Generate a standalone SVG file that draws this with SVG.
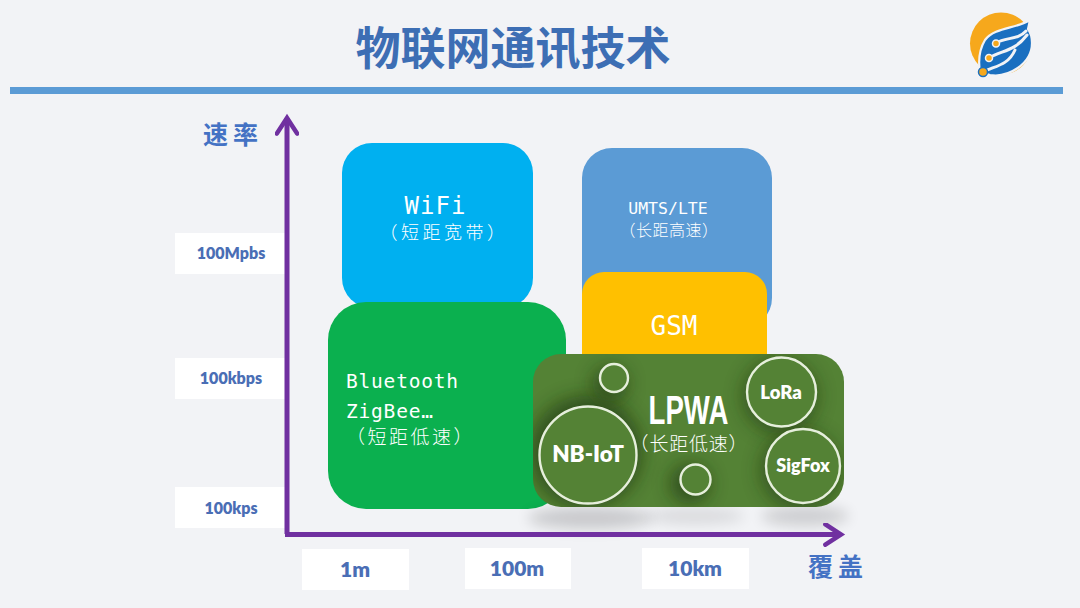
<svg xmlns="http://www.w3.org/2000/svg" width="1080" height="608" viewBox="0 0 1080 608">
<defs>
<filter id="sh" x="-30%" y="-60%" width="160%" height="220%"><feGaussianBlur stdDeviation="7"/></filter>
<filter id="ish" x="-50%" y="-50%" width="200%" height="200%"><feGaussianBlur stdDeviation="9"/></filter>
<clipPath id="lp"><rect x="533" y="354" width="311" height="153" rx="28"/></clipPath>
<marker id="ah" viewBox="0 0 20 20" refX="16" refY="10" markerUnits="userSpaceOnUse" markerWidth="24" markerHeight="24" orient="auto"><path d="M3 1.5 L16 10 L3 18.5" fill="none" stroke="#7030a0" stroke-width="3.8" stroke-linecap="round"/></marker>
</defs>
<style>
text{font-family:"Liberation Sans","Noto Sans CJK SC",sans-serif}
.lab{font-family:Lato,"Noto Sans",sans-serif;font-weight:800;fill:#4a6eb5;text-anchor:middle}
.axis{font-family:"Noto Sans CJK SC",sans-serif;font-weight:700;fill:#4472c4;font-size:25px;text-anchor:middle}
.w{fill:#fff;text-anchor:middle}
.mono{font-family:"DejaVu Sans Mono","Noto Sans CJK SC",monospace}
.cjk{font-family:"Noto Sans CJK SC",sans-serif;font-weight:300}
.ring{fill:#548235;stroke:#e6efdc;stroke-width:2.4}
.ctext{font-family:Lato,"Noto Sans",sans-serif;font-weight:800;fill:#fff;text-anchor:middle}
.tick{fill:#fff}
</style>
<rect width="1080" height="608" fill="#f2f3f6"/>
<g id="title"><text x="513" y="65" font-size="45" font-weight="700" fill="#3d6eb4" text-anchor="middle" style="font-family:'Noto Sans CJK SC',sans-serif">物联网通讯技术</text></g>
<rect id="title-bar" x="10" y="87" width="1053" height="7" fill="#5b9bd5"/>
<g id="logo">
<circle cx="1001" cy="43.500" r="31" fill="#f6a81c"/>
<path d="M1030 20 C1016 29 995 27 985 40 C979 50 978 60 980 72 L990 75 C1008 78 1032 64 1032 43 C1032 38 1031 33 1028 29 Z" fill="#1a6fc0" stroke="#f2f3f6" stroke-width="2.200"/>
<path d="M996 43 C1006 37 1018 40 1026 31 M989 58 C1002 50 1014 52 1027 35 M983 72 C994 66 1008 66 1015 50" fill="none" stroke="#f2f3f6" stroke-width="3" stroke-linecap="round"/>
<circle cx="996" cy="43.500" r="3.500" fill="#f6a81c" stroke="#f2f3f6" stroke-width="1.500"/>
<circle cx="989" cy="58" r="3.500" fill="#f6a81c" stroke="#f2f3f6" stroke-width="1.500"/>
<circle cx="983" cy="72" r="4.500" fill="#f6a81c" stroke="#1a6fc0" stroke-width="1.500"/>
</g>
<g id="tick-100Mpbs"><rect class="tick" x="175" y="233" width="112" height="41"/><text class="lab" x="231" y="259" font-size="16">100Mpbs</text></g>
<g id="tick-100kbps"><rect class="tick" x="175" y="358" width="112" height="41"/><text class="lab" x="231" y="384" font-size="16">100kbps</text></g>
<g id="tick-100kps"><rect class="tick" x="175" y="487" width="112" height="41"/><text class="lab" x="231" y="514" font-size="16">100kps</text></g>
<g id="tick-1m"><rect class="tick" x="302" y="549" width="107" height="41"/><text class="lab" x="355" y="577" font-size="21">1m</text></g>
<g id="tick-100m"><rect class="tick" x="465" y="548" width="106" height="41"/><text class="lab" x="517" y="576" font-size="21">100m</text></g>
<g id="tick-10km"><rect class="tick" x="642" y="548" width="107" height="41"/><text class="lab" x="695" y="576" font-size="21">10km</text></g>
<g id="umts"><rect x="582" y="148" width="190" height="180" rx="30" fill="#5b9bd5"/>
<text class="w mono" x="668" y="214" font-size="16.500">UMTS/LTE</text>
<text class="w cjk" x="669" y="236" font-size="16" letter-spacing="0.500">（长距高速）</text></g>
<g id="wifi"><rect x="342" y="143" width="191" height="165" rx="30" fill="#00b0f0"/>
<text class="w mono" x="435.500" y="214" font-size="24" letter-spacing="1">WiFi</text>
<text class="w cjk" x="444" y="239" font-size="18" letter-spacing="3.500">（短距宽带）</text></g>
<g id="bluetooth"><rect x="328" y="302" width="238" height="207" rx="38" fill="#0bb04f"/>
<text class="mono" x="346" y="388" font-size="19.500" fill="#fff" letter-spacing="0.800">Bluetooth</text>
<text class="mono" x="346" y="418" font-size="19.500" fill="#fff" letter-spacing="0.800">ZigBee…</text>
<text class="cjk" x="346" y="444" font-size="19" fill="#fff" letter-spacing="2.500">（短距低速）</text></g>
<g id="gsm"><rect x="582" y="272" width="185" height="120" rx="22" fill="#ffc000"/>
<text class="w mono" x="674" y="335" font-size="26">GSM</text></g>
<ellipse cx="590" cy="518" rx="62" ry="11" fill="#000" opacity="0.17" filter="url(#sh)"/>
<ellipse cx="695" cy="516" rx="50" ry="8" fill="#000" opacity="0.1" filter="url(#sh)"/>
<ellipse cx="805" cy="516" rx="44" ry="10" fill="#000" opacity="0.15" filter="url(#sh)"/>
<g id="lpwa"><rect x="533" y="354" width="311" height="153" rx="28" fill="#548235"/>
<g clip-path="url(#lp)">
<circle cx="586" cy="452" r="56" fill="#1a3210" opacity="0.6" filter="url(#ish)"/>
<circle cx="610" cy="384" r="18" fill="#1a3210" opacity="0.55" filter="url(#ish)"/>
<circle cx="690" cy="484" r="20" fill="#1a3210" opacity="0.6" filter="url(#ish)"/>
<circle cx="780" cy="396" r="38" fill="#1a3210" opacity="0.5" filter="url(#ish)"/>
<circle cx="800" cy="470" r="40" fill="#1a3210" opacity="0.5" filter="url(#ish)"/>
</g>
<text class="w" x="688.500" y="424" font-size="40" font-weight="700" transform="translate(213.400 0) scale(0.690 1)">LPWA</text>
<text class="w cjk" x="689" y="451" font-size="19" font-weight="400" letter-spacing="0.800">（长距低速）</text></g>
<g id="node-nbiot"><circle class="ring" cx="588" cy="455" r="48.500"/><text class="ctext" x="588" y="462" font-size="22.500">NB-IoT</text></g>
<g id="node-small-1"><circle class="ring" cx="614" cy="378" r="14"/></g>
<g id="node-small-2"><circle class="ring" cx="695.500" cy="479.500" r="15"/></g>
<g id="node-lora"><circle class="ring" cx="781.500" cy="392" r="34.500"/><text class="ctext" x="781" y="399" font-size="18.500">LoRa</text></g>
<g id="node-sigfox"><circle class="ring" cx="803" cy="466" r="37"/><text class="ctext" x="803" y="472" font-size="18">SigFox</text></g>
<g id="connectors" fill="none" stroke="#7030a0" stroke-width="5">
<path d="M287 534 L287 118" marker-end="url(#ah)"/>
<path d="M285 534.500 L841 534.500" marker-end="url(#ah)"/>
</g>
<text class="axis" x="233" y="144" letter-spacing="5">速率</text>
<text class="axis" x="838" y="576" letter-spacing="5">覆盖</text>
</svg>
